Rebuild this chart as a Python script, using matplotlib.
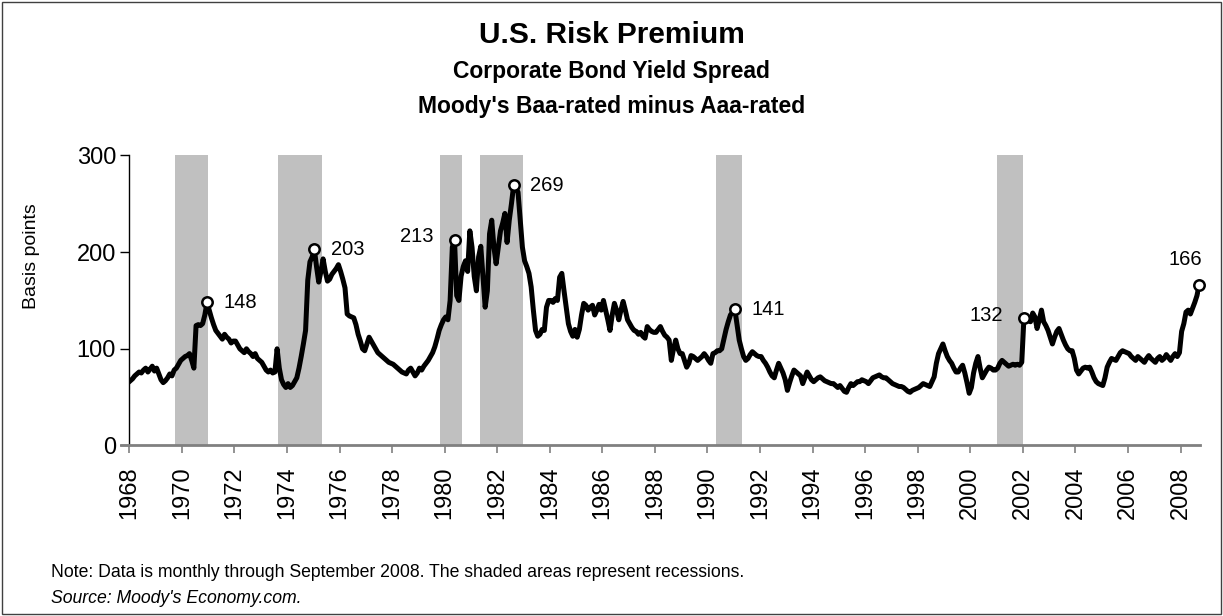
import matplotlib
matplotlib.use("Agg")
import matplotlib.pyplot as plt
from matplotlib.patches import Rectangle

plt.rcParams['font.family'] = ['Liberation Sans', 'DejaVu Sans']

# monthly Baa - Aaa spread in basis points, Jan 1968 .. Sep 2008
spread = [
    67, 69, 72, 74, 76, 75, 78, 80, 76, 79, 82, 77,              # 1968
    80, 74, 68, 65, 67, 70, 74, 72, 78, 80, 84, 88,              # 1969
    90, 92, 93, 95, 88, 80, 124, 125, 124, 126, 135, 148,        # 1970
    140, 132, 125, 119, 116, 113, 110, 115, 112, 110, 106, 108,  # 1971
    108, 104, 100, 98, 96, 100, 97, 95, 92, 95, 90, 88,          # 1972
    86, 82, 78, 76, 78, 75, 76, 100, 80, 68, 63, 60,             # 1973
    64, 60, 62, 66, 70, 80, 92, 105, 119, 171, 190, 195,         # 1974
    203, 185, 169, 180, 193, 180, 170, 172, 177, 180, 183, 187,  # 1975
    180, 172, 163, 136, 134, 133, 132, 125, 115, 108, 100, 98,   # 1976
    105, 112, 108, 104, 100, 96, 94, 92, 90, 88, 86, 85,         # 1977
    84, 82, 80, 78, 76, 75, 74, 78, 80, 76, 72, 75,              # 1978
    80, 78, 82, 85, 88, 92, 96, 102, 110, 119, 125, 130,         # 1979
    133, 130, 150, 205, 213, 155, 150, 175, 185, 191, 180, 222,  # 1980
    205, 175, 160, 195, 206, 175, 143, 160, 219, 233, 205, 188,  # 1981
    205, 222, 230, 240, 210, 233, 250, 269, 266, 262, 233, 205,  # 1982
    191, 185, 178, 164, 140, 119, 113, 115, 120, 119, 143, 150,  # 1983
    150, 148, 152, 150, 174, 178, 160, 143, 126, 118, 113, 120,  # 1984
    112, 120, 135, 147, 145, 140, 143, 145, 135, 140, 146, 140,  # 1985
    150, 140, 130, 119, 135, 147, 140, 130, 140, 149, 140, 130,  # 1986
    126, 122, 119, 118, 115, 117, 113, 111, 123, 120, 118, 117,  # 1987
    117, 120, 123, 118, 114, 112, 109, 88, 100, 109, 100, 95,    # 1988
    95, 88, 81, 85, 93, 92, 90, 88, 90, 92, 95, 92,              # 1989
    88, 85, 95, 96, 98, 98, 100, 110, 120, 128, 135, 138,        # 1990
    141, 125, 109, 100, 92, 88, 90, 94, 97, 95, 93, 92,          # 1991
    92, 88, 85, 81, 76, 72, 70, 78, 85, 80, 75, 68,              # 1992
    57, 65, 72, 78, 76, 74, 72, 64, 70, 76, 72, 68,              # 1993
    66, 68, 70, 71, 69, 67, 66, 65, 64, 64, 62, 60,              # 1994
    62, 59, 56, 55, 60, 64, 62, 64, 66, 66, 68, 67,              # 1995
    66, 64, 67, 70, 71, 72, 73, 71, 70, 70, 68, 66,              # 1996
    64, 63, 62, 61, 61, 60, 58, 56, 55, 57, 58, 59,              # 1997
    60, 62, 64, 63, 62, 61, 66, 71, 85, 95, 100, 105,            # 1998
    98, 92, 88, 85, 80, 76, 76, 80, 83, 75, 65, 54,              # 1999
    60, 75, 85, 92, 80, 70, 74, 78, 81, 80, 78, 78,              # 2000
    80, 85, 88, 86, 84, 82, 83, 84, 83, 84, 83, 86,              # 2001
    132, 130, 129, 128, 137, 133, 121, 130, 140, 128, 124, 119,  # 2002
    112, 105, 112, 118, 121, 115, 109, 104, 100, 98, 98, 90,     # 2003
    78, 74, 77, 80, 81, 80, 81, 76, 70, 66, 64, 63,              # 2004
    62, 70, 81, 86, 90, 89, 88, 92, 96, 98, 97, 96,              # 2005
    95, 92, 90, 88, 92, 90, 88, 86, 90, 93, 90, 88,              # 2006
    86, 90, 92, 88, 90, 94, 91, 88, 92, 95, 92, 96,              # 2007
    118, 126, 138, 140, 136, 142, 148, 155, 166,                 # 2008
]
start_year = 1968

# recessions (shaded), as fractional years
rec_start = [1969.75, 1973.67, 1979.83, 1981.33, 1990.33, 2001.0]
rec_end = [1971.0, 1975.33, 1980.67, 1983.0, 1991.33, 2002.0]

# labelled months (year, month) and where the label sits
peak_month = [(1970, 12), (1975, 1), (1980, 5), (1982, 8), (1991, 1), (2002, 1), (2008, 9)]
peak_side = ['right', 'right', 'left', 'right', 'right', 'left', 'top']

# each month centred in its slot, like a category axis
x = [start_year + (i + 0.5) / 12 for i in range(len(spread))]

fig = plt.figure(figsize=(12.23, 6.16), dpi=100)
ax = fig.add_axes([0.1057, 0.2768, 0.8757, 0.4709])

for s, e in zip(rec_start, rec_end):
    ax.axvspan(s, e, color='#c0c0c0', lw=0, zorder=0)

ax.plot(x, spread, color='black', lw=3.6, solid_joinstyle='round', zorder=2)

for (yr, mo), side in zip(peak_month, peak_side):
    i = (yr - start_year) * 12 + mo - 1
    px, pv = x[i], spread[i]
    ax.plot(px, pv, 'o', ms=7.5, mfc='white', mec='black', mew=1.8, zorder=3, clip_on=False)
    if side == 'right':
        ax.annotate(str(pv), (px, pv), xytext=(12, 0), textcoords='offset points',
                    ha='left', va='center', fontsize=14.5)
    elif side == 'left':
        ax.annotate(str(pv), (px, pv), xytext=(-15, 2), textcoords='offset points',
                    ha='right', va='center', fontsize=14.5)
    else:
        ax.annotate(str(pv), (px, pv), xytext=(-10, 18), textcoords='offset points',
                    ha='center', va='center', fontsize=14.5)

ax.set_xlim(start_year, start_year + len(spread) / 12)
ax.set_ylim(0, 300)
ax.set_yticks([0, 100, 200, 300])
ax.set_xticks(range(1968, 2009, 2))
ax.set_xticklabels([str(y) for y in range(1968, 2009, 2)], rotation=90)
ax.tick_params(axis='x', labelsize=17, length=5.5, width=1.2, color='#808080', pad=9.5)
ax.tick_params(axis='y', labelsize=17, length=6.5, width=1, pad=3)

for side in ['top', 'right', 'bottom']:
    ax.spines[side].set_visible(False)
ax.spines['left'].set_linewidth(1)
# category axis line, reaching a little left of the value axis
ax.plot([-0.008, 1], [0, 0], transform=ax.transAxes, clip_on=False,
        color='#808080', lw=2, zorder=4)

fig.text(32 / 1223, 1 - 256 / 616, 'Basis points', rotation=90, ha='center', va='center',
         fontsize=14)

fig.text(0.5, 0.943, 'U.S. Risk Premium', ha='center', va='center',
         fontsize=21.5, fontweight='bold')
fig.text(0.5, 0.884, 'Corporate Bond Yield Spread', ha='center', va='center',
         fontsize=16.5, fontweight='bold')
fig.text(0.5, 0.827, "Moody's Baa-rated minus Aaa-rated", ha='center', va='center',
         fontsize=16.5, fontweight='bold')

fig.text(0.042, 0.071, 'Note: Data is monthly through September 2008. The shaded areas represent recessions.',
         fontsize=12.7, va='center')
fig.text(0.042, 0.029, "Source: Moody's Economy.com.", fontsize=12.7, va='center', style='italic')

fig.patches.append(Rectangle((0.002, 0.003), 0.996, 0.994, transform=fig.transFigure,
                             fill=False, edgecolor='#404040', lw=1))

fig.savefig('out.png', dpi=100)
